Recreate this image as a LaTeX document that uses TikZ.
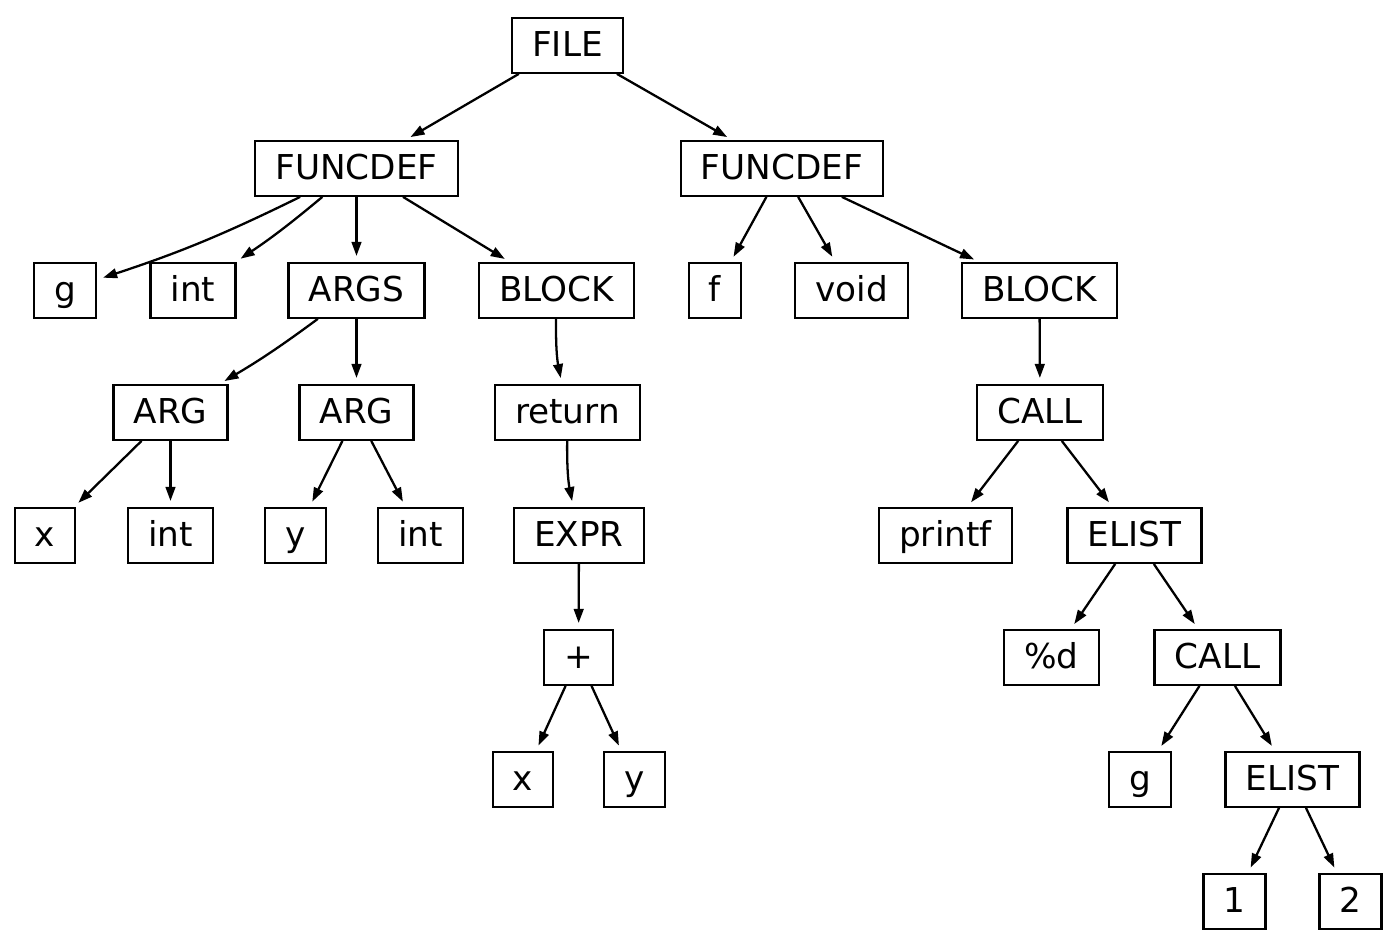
\documentclass[tikz,border=0pt]{standalone}
\usepackage{fontspec}
\setmainfont{DejaVu Sans}
\usepackage{tikz}
\usetikzlibrary{arrows.meta}

\tikzset{
    box/.style={draw, line width=1.3pt, inner xsep=11.5pt, inner ysep=0pt,
        minimum height=31pt, text height=14pt, text depth=1.5pt,
        font=\fontsize{19.5}{22}\selectfont},
    edge/.style={line width=1.3pt, -{Triangle[length=8pt,width=5.5pt]}, shorten >=3.5pt}
}

\begin{document}
\begin{tikzpicture}[x=0.02cm, y=-0.02cm]
    \useasboundingbox (0,0) rectangle (1400,948);

    % Root and the two functions
    \node[box] (file) at (567.5, 45.5) {FILE};
    \node[box] (fdg) at (356.5, 168.5) {FUNCDEF};
    \node[box] (fdf) at (782, 168.5) {FUNCDEF};

    % Function g
    \node[box] (gname) at (65, 290.5) {g};
    \node[box] (gtype) at (193, 290.5) {int};
    \node[box] (args) at (356.5, 290.5) {ARGS};
    \node[box] (gblock) at (556.5, 290.5) {BLOCK};
    \node[box] (argx) at (170.5, 412.5) {ARG};
    \node[box] (argy) at (356.5, 412.5) {ARG};
    \node[box] (ret) at (567.5, 412.5) {return};
    \node[box] (xname) at (45, 535.5) {x};
    \node[box] (xtype) at (170.5, 535.5) {int};
    \node[box] (yname) at (295.5, 535.5) {y};
    \node[box] (ytype) at (420.5, 535.5) {int};
    \node[box] (expr) at (579, 535.5) {EXPR};
    \node[box] (plus) at (578.5, 657.5) {+};
    \node[box] (px) at (523, 779.5) {x};
    \node[box] (py) at (634.5, 779.5) {y};

    % Function f
    \node[box] (fname) at (715, 290.5) {f};
    \node[box] (ftype) at (851.5, 290.5) {void};
    \node[box] (fblock) at (1039.5, 290.5) {BLOCK};
    \node[box] (call) at (1040, 412.5) {CALL};
    \node[box] (printf) at (945.5, 535.5) {printf};
    \node[box] (elist) at (1134.5, 535.5) {ELIST};
    \node[box] (fmt) at (1051.5, 657.5) {\%d};
    \node[box] (callg) at (1217.5, 657.5) {CALL};
    \node[box] (cg) at (1140, 779.5) {g};
    \node[box] (elistg) at (1292.5, 779.5) {ELIST};
    \node[box] (one) at (1234.5, 901.5) {1};
    \node[box] (two) at (1350.5, 901.5) {2};

    % Edges
    \draw[edge] (file) -- (fdg);
    \draw[edge] (file) -- (fdf);
    \draw[edge] (fdg) to[bend left=4] (gname);
    \draw[edge] (fdg) to[bend left=3] (gtype);
    \draw[edge] (fdg) -- (args);
    \draw[edge] (fdg) -- (gblock);
    \draw[edge] (args) to[bend left=3] (argx);
    \draw[edge] (args) -- (argy);
    \draw[edge] (argx) -- (xname);
    \draw[edge] (argx) -- (xtype);
    \draw[edge] (argy) -- (yname);
    \draw[edge] (argy) -- (ytype);
    \draw[edge] (gblock) to[bend right=6] (ret);
    \draw[edge] (ret) to[bend right=6] (expr);
    \draw[edge] (expr) -- (plus);
    \draw[edge] (plus) -- (px);
    \draw[edge] (plus) -- (py);
    \draw[edge] (fdf) -- (fname);
    \draw[edge] (fdf) -- (ftype);
    \draw[edge] (fdf) -- (fblock);
    \draw[edge] (fblock) -- (call);
    \draw[edge] (call) -- (printf);
    \draw[edge] (call) -- (elist);
    \draw[edge] (elist) -- (fmt);
    \draw[edge] (elist) -- (callg);
    \draw[edge] (callg) -- (cg);
    \draw[edge] (callg) -- (elistg);
    \draw[edge] (elistg) -- (one);
    \draw[edge] (elistg) -- (two);
\end{tikzpicture}
\end{document}
